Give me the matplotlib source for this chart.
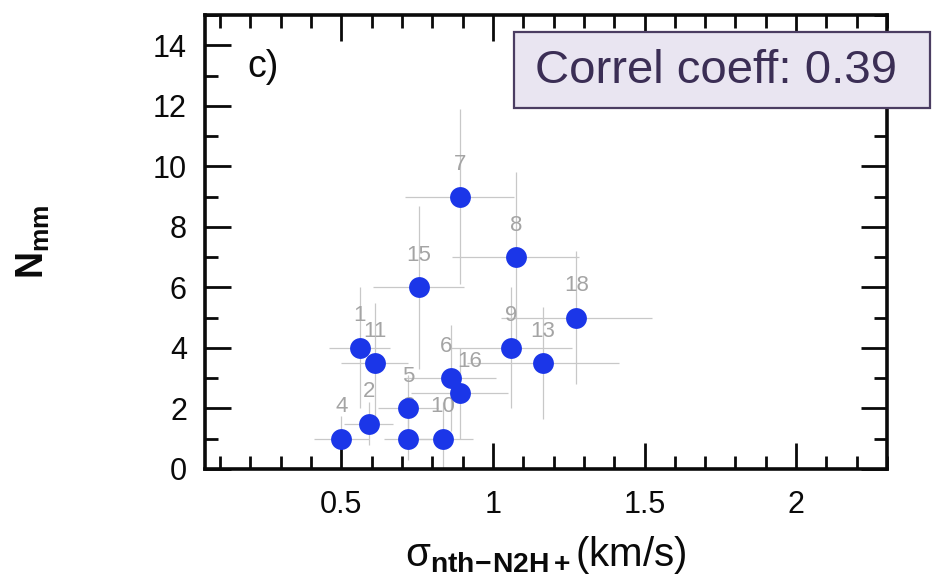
import matplotlib
matplotlib.use("Agg")
import matplotlib.pyplot as plt
from matplotlib.patches import Rectangle
from matplotlib.ticker import MultipleLocator, FuncFormatter

plt.rcParams['font.family'] = ['Liberation Sans', 'DejaVu Sans']
plt.rcParams['mathtext.fontset'] = 'custom'
plt.rcParams['mathtext.rm'] = 'Liberation Sans'
plt.rcParams['mathtext.it'] = 'Liberation Sans:italic'
plt.rcParams['mathtext.bf'] = 'Liberation Sans:bold'

# Source identifiers, non-thermal N2H+ velocity dispersion and number of mm cores
ids = ["7", "8", "15", "18", "1", "11", "9", "13", "6", "16", "5", "2", "4", "3", "10"]
sigma_nth = [0.89, 1.075, 0.755, 1.275, 0.56, 0.61, 1.06, 1.165, 0.86, 0.89,
             0.72, 0.59, 0.50, 0.72, 0.835]
n_mm = [9, 7, 6, 5, 4, 3.5, 4, 3.5, 3, 2.5, 2, 1.5, 1, 1, 1]
sigma_err = [0.18, 0.21, 0.15, 0.25, 0.10, 0.11, 0.20, 0.25, 0.15, 0.16,
             0.10, 0.08, 0.09, 0.08, 0.10]
n_mm_err = [2.9, 2.8, 2.7, 2.2, 2.0, 2.0, 2.0, 1.85, 1.75, 1.5,
            1.1, 0.7, 0.75, 0.7, 1.2]

panel_tag = "c)"
correl_text = "Correl coeff: 0.39"

W, H = 935, 588
fig = plt.figure(figsize=(W / 100, H / 100), dpi=100)
ax = fig.add_axes([205 / W, 1 - 469 / H, 682 / W, 454 / H])

ax.errorbar(sigma_nth, n_mm, xerr=sigma_err, yerr=n_mm_err, fmt='none',
            ecolor='#c8c8c8', elinewidth=0.9, capsize=0, zorder=1)

# small sideways nudges so neighbouring ids stay readable
nudge = {"6": -3, "16": 7}
for sx, ny, lab in zip(sigma_nth, n_mm, ids):
    ax.annotate(lab, (sx, ny), xytext=(nudge.get(lab, 0), 23),
                textcoords='offset points', ha='center', va='center',
                fontsize=16, color='#a4a4a4', zorder=2)

ax.plot(sigma_nth, n_mm, 'o', color='#1b36e8', markersize=15,
        markeredgewidth=0, zorder=3)

ax.set_xlim(0.05, 2.3)
ax.set_ylim(0, 15)

ax.xaxis.set_major_locator(MultipleLocator(0.5))
ax.xaxis.set_minor_locator(MultipleLocator(0.1))
ax.yaxis.set_major_locator(MultipleLocator(2))
ax.yaxis.set_minor_locator(MultipleLocator(1))
ax.xaxis.set_major_formatter(FuncFormatter(lambda v, p: f"{v:g}"))

ax.tick_params(which='both', direction='in', top=True, right=True,
               colors='#0a0a0a', labelsize=22)
ax.tick_params(which='major', length=19, width=2.0)
ax.tick_params(which='minor', length=9.5, width=2.0)
ax.tick_params(axis='x', which='major', pad=15)
ax.tick_params(axis='y', which='major', pad=13)
for sp in ax.spines.values():
    sp.set_linewidth(2.6)
    sp.set_color('#0a0a0a')

ax.text(0.062, 0.885, panel_tag, transform=ax.transAxes, fontsize=27,
        ha='left', va='center', color='#0a0a0a')

ax.set_xlabel('σ' + r'$_{\mathbf{nth\!-\!N2H+}}$' + '(km/s)', fontsize=29,
              labelpad=10, color='#0a0a0a')
fig.text(33 / W, 1 - 242 / H, r'$\mathbf{N_{mm}}$', rotation=90, fontsize=27,
         ha='center', va='center', color='#0a0a0a')

# Correlation annotation box
box = Rectangle((514 / W, 1 - 108 / H), (930 - 514) / W, (108 - 32) / H,
                transform=fig.transFigure, facecolor='#e9e5f1',
                edgecolor='#4b3d62', linewidth=1.6, zorder=10)
fig.patches.append(box)
fig.text(535 / W, 1 - 71 / H, correl_text, fontsize=34, color='#3b2e55',
         ha='left', va='center', zorder=11)

fig.savefig('out.png', dpi=100)
